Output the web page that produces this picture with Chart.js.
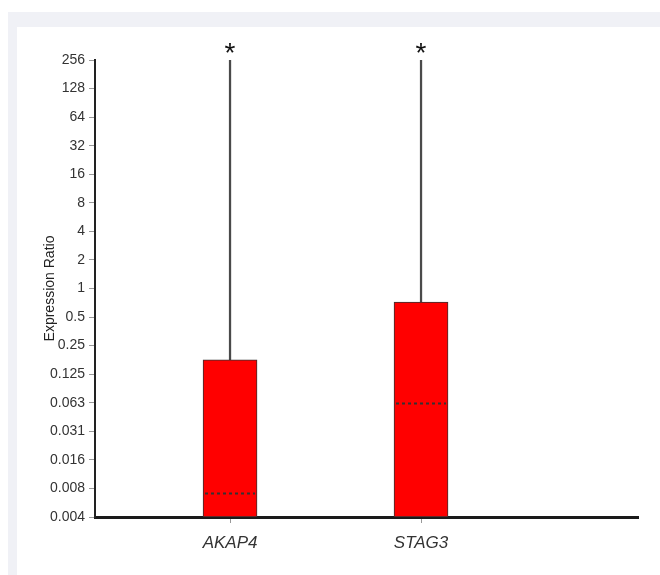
<!DOCTYPE html>
<html>
<head>
<meta charset="utf-8">
<script src="https://cdn.jsdelivr.net/npm/chart.js@4"></script>
<style>
  html, body { margin: 0; padding: 0; background: #fff; }
  #frame { position: absolute; left: 8px; top: 12px; width: 652px; height: 563px; background: #f0f1f6; }
  #panel { position: absolute; left: 17px; top: 27px; width: 643px; height: 548px; background: #fff; }
</style>
</head>
<body>
<div id="frame"></div>
<div id="panel"><canvas id="chart" width="643" height="548"></canvas></div>
<script>
const categories = ['AKAP4', 'STAG3'];
const boxBottom = [0.00390625, 0.00390625];
const boxTop = [0.177, 0.72];
const medians = [0.0070, 0.062];
const whiskerTop = [256, 256];
const significant = ['*', '*'];
const yTicks = [256, 128, 64, 32, 16, 8, 4, 2, 1, 0.5, 0.25, 0.125, 0.0625, 0.03125, 0.015625, 0.0078125, 0.00390625];
const yTickLabels = ['256', '128', '64', '32', '16', '8', '4', '2', '1', '0.5', '0.25', '0.125', '0.063', '0.031', '0.016', '0.008', '0.004'];

const xPos = categories.map((c, i) => i + 1);

// dashed median line and asterisk above each whisker
const markers = {
  id: 'markers',
  afterDatasetsDraw(chart) {
    const ctx = chart.ctx;
    const y = chart.scales.y;
    const meta = chart.getDatasetMeta(1);
    ctx.save();
    meta.data.forEach((bar, i) => {
      const my = Math.round(y.getPixelForValue(medians[i])) + 0.5;
      ctx.strokeStyle = '#333';
      ctx.lineWidth = 2;
      ctx.setLineDash([3, 3]);
      ctx.beginPath();
      ctx.moveTo(bar.x - bar.width / 2 + 2, my);
      ctx.lineTo(bar.x + bar.width / 2 - 2, my);
      ctx.stroke();
      ctx.setLineDash([]);
      ctx.fillStyle = '#111';
      ctx.font = '28px "Liberation Sans", Arial, sans-serif';
      ctx.textAlign = 'center';
      ctx.textBaseline = 'alphabetic';
      ctx.fillText(significant[i], bar.x, y.getPixelForValue(whiskerTop[i]) + 2);
    });
    ctx.restore();
  }
};

new Chart(document.getElementById('chart'), {
  type: 'bar',
  data: {
    datasets: [{
      label: 'whisker',
      data: xPos.map((x, i) => ({ x: x, y: [boxTop[i], whiskerTop[i]] })),
      backgroundColor: '#4a4a4a',
      barThickness: 1.6,
      grouped: false,
      order: 2
    }, {
      label: 'box',
      data: xPos.map((x, i) => ({ x: x, y: [boxBottom[i], boxTop[i]] })),
      backgroundColor: '#ff0000',
      borderColor: '#333',
      borderWidth: 1,
      borderSkipped: false,
      barThickness: 54,
      grouped: false,
      order: 1
    }]
  },
  options: {
    responsive: false,
    animation: false,
    layout: { padding: { left: 0, right: 22, top: 33, bottom: 0 } },
    plugins: { legend: { display: false }, tooltip: { enabled: false } },
    scales: {
      x: {
        type: 'linear',
        min: 0.293,
        max: 3.136,
        offset: false,
        afterBuildTicks: s => { s.ticks = xPos.map(v => ({ value: v })); },
        afterFit: s => { s.height = 58; },
        border: { display: true, color: '#1a1a1a', width: 3 },
        grid: { drawOnChartArea: false, offset: false, tickLength: 6, tickColor: '#999' },
        ticks: {
          padding: 10,
          color: '#333',
          font: { family: '"Liberation Sans", Arial, sans-serif', size: 17, style: 'italic' },
          callback: v => categories[v - 1] || ''
        }
      },
      y: {
        type: 'logarithmic',
        min: 0.00390625,
        max: 256,
        afterBuildTicks: s => { s.ticks = yTicks.map(v => ({ value: v })); },
        afterFit: s => { s.width = 78; },
        border: { display: true, color: '#222', width: 2 },
        grid: { drawOnChartArea: false, tickLength: 6, tickColor: '#999' },
        ticks: {
          padding: 4,
          color: '#333',
          autoSkip: false,
          font: { family: '"Liberation Sans", Arial, sans-serif', size: 14 },
          callback: (v, i) => yTickLabels[yTicks.indexOf(v)]
        },
        title: {
          display: true,
          text: 'Expression Ratio',
          color: '#222',
          padding: { top: 25, bottom: 0 },
          font: { family: '"Liberation Sans", Arial, sans-serif', size: 14 }
        }
      }
    }
  },
  plugins: [markers]
});
</script>
</body>
</html>
